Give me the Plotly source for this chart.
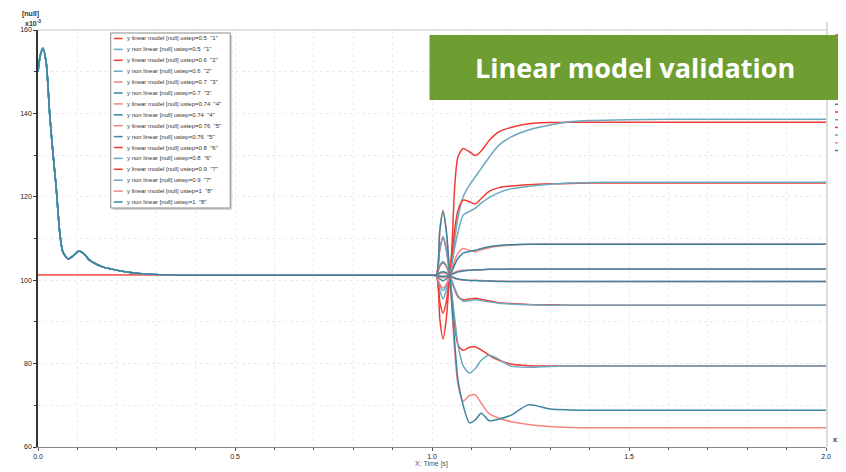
import plotly.graph_objects as go

# ---------------- data ----------------
USTEPS = ["0.5", "0.6", "0.7", "0.74", "0.76", "0.8", "0.9", "1"]
RUN_IDS = ["1", "2", "3", "4", "5", "6", "7", "8"]

# common start segment (non-linear model initial transient), 0..1
T_START = [0.000, 0.006, 0.0126, 0.021, 0.0295, 0.038, 0.046, 0.055, 0.063, 0.077,
           0.090, 0.104, 0.118, 0.131, 0.164, 0.190, 0.230, 0.280, 0.350, 0.600, 1.000]
NL_START = [150.0, 154.0, 155.6, 152.0, 140.0, 130.4, 122.4, 111.6, 106.8, 105.1,
            105.9, 107.0, 106.2, 104.8, 103.2, 102.6, 101.9, 101.4, 101.2, 101.2, 101.2]
LIN_START_T = [0.0]
LIN_START_Y = [101.2]

# step segment, 1..2
T_STEP = [1.000, 1.011, 1.020, 1.028, 1.036, 1.045, 1.050, 1.058, 1.066, 1.079, 1.095, 1.110,
          1.125, 1.145, 1.170, 1.200, 1.245, 1.300, 1.350, 1.400, 1.500, 1.700, 2.000]

lin_05 = [101.2, 101.2, 90.5, 85.9, 90.5, 101.2, 107.0, 123.0, 129.6, 131.6, 130.8, 129.9,
          131.0, 133.5, 135.6, 136.6, 137.5, 137.8, 137.9, 137.9, 137.9, 137.9, 137.9]
nl_05 = [101.2, 101.2, 97.5, 95.5, 97.5, 101.2, 104.0, 110.0, 115.0, 120.0, 122.8, 124.8,
         126.8, 129.5, 132.4, 134.3, 136.0, 137.2, 138.0, 138.3, 138.5, 138.6, 138.6]
lin_06 = [101.2, 101.2, 94.7, 92.1, 94.7, 101.2, 105.5, 112.5, 116.8, 119.2, 118.8, 118.3,
          119.6, 121.3, 122.2, 122.6, 122.9, 123.1, 123.2, 123.3, 123.3, 123.3, 123.3]
nl_06 = [101.2, 101.2, 98.6, 97.5, 98.6, 101.2, 103.5, 108.0, 111.5, 115.6, 116.5, 117.3,
         118.5, 119.8, 121.0, 121.9, 122.5, 123.0, 123.3, 123.4, 123.5, 123.5, 123.5]
lin_07 = [101.2, 101.2, 99.0, 98.1, 99.0, 101.2, 102.5, 104.8, 106.5, 107.6, 107.2, 106.8,
          107.3, 107.8, 108.2, 108.4, 108.6, 108.7, 108.7, 108.7, 108.7, 108.7, 108.7]
nl_07 = [101.2, 101.2, 100.3, 99.8, 100.3, 101.2, 102.0, 103.8, 105.2, 106.5, 106.9, 107.2,
         107.6, 108.0, 108.3, 108.5, 108.6, 108.6, 108.6, 108.6, 108.6, 108.6, 108.6]
lin_074 = [101.2, 101.2, 100.8, 100.6, 100.8, 101.2, 101.5, 101.9, 102.2, 102.4, 102.4, 102.4,
           102.5, 102.6, 102.6, 102.7, 102.7, 102.7, 102.7, 102.7, 102.7, 102.7, 102.7]
nl_074 = [101.2, 101.2, 101.0, 100.9, 101.0, 101.2, 101.4, 101.7, 102.0, 102.2, 102.4, 102.5,
          102.5, 102.6, 102.6, 102.7, 102.7, 102.7, 102.7, 102.7, 102.7, 102.7, 102.7]
lin_076 = [101.2, 101.2, 101.6, 101.8, 101.6, 101.2, 100.8, 100.4, 100.2, 100.0, 100.0, 100.0,
           99.9, 99.8, 99.8, 99.7, 99.7, 99.7, 99.7, 99.7, 99.7, 99.7, 99.7]
nl_076 = [101.2, 101.2, 101.8, 102.0, 101.8, 101.2, 100.9, 100.5, 100.3, 100.1, 99.9, 99.9,
          99.8, 99.8, 99.7, 99.7, 99.7, 99.7, 99.7, 99.7, 99.7, 99.7, 99.7]
lin_08 = [101.2, 101.2, 103.4, 104.2, 103.4, 101.2, 99.8, 97.6, 96.0, 95.3, 95.5, 95.7,
          95.4, 95.0, 94.6, 94.4, 94.2, 94.1, 94.0, 94.0, 94.0, 94.0, 94.0]
nl_08 = [101.2, 101.2, 103.6, 104.5, 103.6, 101.2, 100.0, 98.0, 96.3, 95.0, 95.1, 95.3,
         95.1, 94.8, 94.5, 94.3, 94.1, 94.0, 94.0, 94.0, 94.0, 94.0, 94.0]
lin_09 = [101.2, 101.2, 107.5, 110.2, 107.5, 101.2, 96.5, 89.0, 84.5, 83.2, 83.9, 84.0,
          83.3, 82.0, 80.8, 79.9, 79.5, 79.4, 79.4, 79.4, 79.4, 79.4, 79.4]
nl_09 = [101.2, 101.2, 107.7, 110.5, 107.7, 101.2, 97.0, 90.5, 84.5, 79.5, 77.7, 78.8,
         80.8, 82.0, 81.0, 79.4, 79.1, 79.3, 79.4, 79.4, 79.4, 79.4, 79.4]
lin_10 = [101.2, 101.2, 112.3, 116.8, 112.3, 101.2, 94.0, 82.5, 75.0, 71.0, 72.3, 72.5,
          70.5, 68.0, 66.9, 66.1, 65.4, 64.9, 64.7, 64.6, 64.6, 64.6, 64.6]
nl_10 = [101.2, 101.2, 112.0, 116.4, 112.0, 101.2, 95.0, 84.5, 76.0, 70.0, 65.8, 66.5,
         68.1, 66.3, 66.7, 67.6, 70.1, 69.1, 68.9, 68.8, 68.8, 68.8, 68.8]

LINEAR = [lin_05, lin_06, lin_07, lin_074, lin_076, lin_08, lin_09, lin_10]
NONLIN = [nl_05, nl_06, nl_07, nl_074, nl_076, nl_08, nl_09, nl_10]

Y_TICKS = [60, 80, 100, 120, 140, 160]
X_TICKS = [0.0, 0.5, 1.0, 1.5, 2.0]

# ---------------- styles ----------------
RED = "#ee3b35"
SALMON = "#f4867f"
TEAL = "#3d84a0"
LTEAL = "#6aa9bf"
LIN_COLORS = [RED, RED, SALMON, SALMON, SALMON, RED, RED, SALMON]
NL_COLORS = [LTEAL, LTEAL, TEAL, TEAL, TEAL, LTEAL, LTEAL, TEAL]

# page body has an 8px margin: figure drawn from (8, 8)
OFF = 8
W, H = 846 - OFF, 472 - OFF
PLOT_X0, PLOT_X1, PLOT_Y0, PLOT_Y1 = 35, 826, 30, 447   # target page pixels
L, T = PLOT_X0 - OFF, PLOT_Y0 - OFF
R, B = W - (PLOT_X1 - OFF), H - (PLOT_Y1 - OFF)
PW, PH = W - L - R, H - T - B


def px(xp):
    return (xp - PLOT_X0) / PW


def py(yp):
    return (PLOT_Y1 - yp) / PH


fig = go.Figure()
names = []
colors = []
for i, u in enumerate(USTEPS):
    nm_l = f'y linear model [null] ustep={u}  "{RUN_IDS[i]}"'
    nm_n = f'y non linear [null] ustep={u}  "{RUN_IDS[i]}"'
    fig.add_trace(go.Scatter(
        x=LIN_START_T + T_STEP, y=LIN_START_Y + LINEAR[i], mode="lines", name=nm_l,
        line=dict(color=LIN_COLORS[i], width=1.5, shape="spline", smoothing=0.7),
        showlegend=False))
    fig.add_trace(go.Scatter(
        x=T_START[:-1] + T_STEP, y=NL_START[:-1] + NONLIN[i], mode="lines", name=nm_n,
        line=dict(color=NL_COLORS[i], width=1.5, shape="spline", smoothing=0.7),
        showlegend=False))
    names += [nm_l, nm_n]
    colors += [LIN_COLORS[i], NL_COLORS[i]]

shapes = []
annos = []

# custom compact legend
lx0, lx1, ly0, ly1 = 108, 228, 33, 208
shapes.append(dict(type="rect", xref="paper", yref="paper", x0=px(lx0 + 2), x1=px(lx1 + 2),
                   y0=py(ly1 + 2), y1=py(ly0 + 2), line=dict(width=0), fillcolor="#d8d8d8"))
shapes.append(dict(type="rect", xref="paper", yref="paper", x0=px(lx0), x1=px(lx1),
                   y0=py(ly1), y1=py(ly0), line=dict(color="#8a8a8a", width=1), fillcolor="white"))
for k, (nm, c) in enumerate(zip(names, colors)):
    yy = 38.5 + k * 10.9
    shapes.append(dict(type="line", xref="paper", yref="paper", x0=px(111), x1=px(120),
                       y0=py(yy), y1=py(yy), line=dict(color=c, width=1.5)))
    annos.append(dict(xref="paper", yref="paper", x=px(122), y=py(yy), text=nm, showarrow=False,
                      xanchor="left", yanchor="middle",
                      font=dict(family="Liberation Sans", size=6, color="#333")))

# clipped second legend at right edge
for k in range(16):
    yy = 35 + k * 7.7
    shapes.append(dict(type="line", xref="paper", yref="paper", x0=px(835), x1=px(848),
                       y0=py(yy), y1=py(yy), line=dict(color=colors[k], width=1.5)))

# plot frame pieces
shapes.append(dict(type="line", xref="paper", yref="paper", x0=px(827), x1=px(827),
                   y0=py(447), y1=py(22), line=dict(color="#dcdcdc", width=2)))
shapes.append(dict(type="line", xref="paper", yref="paper", x0=0, x1=px(827),
                   y0=1, y1=1, line=dict(color="#c8c8c8", width=1)))

# title box
shapes.append(dict(type="rect", xref="paper", yref="paper", x0=px(428), x1=px(840),
                   y0=py(100), y1=py(35), line=dict(width=0), fillcolor="#6e9e32"))
annos.append(dict(xref="paper", yref="paper", x=px(634), y=py(68), text="<b>Linear model validation</b>",
                  showarrow=False, xanchor="center", yanchor="middle",
                  font=dict(family="Open Sans", size=27, color="white")))

# axis decorations
small = dict(family="Liberation Sans", size=7, color="#333")
annos.append(dict(xref="paper", yref="paper", x=px(17), y=py(14), text="<b>[null]</b>", showarrow=False,
                  xanchor="left", yanchor="middle", font=small))
annos.append(dict(xref="paper", yref="paper", x=px(20), y=py(23), text="<b>x10<sup>-3</sup></b>",
                  showarrow=False, xanchor="left", yanchor="middle", font=small))
annos.append(dict(xref="paper", yref="paper", x=px(831), y=py(439), text="<b>x10</b>", showarrow=False,
                  xanchor="left", yanchor="middle", font=small))
annos.append(dict(xref="paper", yref="paper", x=px(430), y=py(464), text="X: Time [s]", showarrow=False,
                  xanchor="center", yanchor="middle",
                  font=dict(family="Liberation Sans", size=7, color="#555")))

fig.update_layout(
    width=W, height=H, autosize=False,
    margin=dict(l=L, r=R, t=T, b=B),
    paper_bgcolor="white", plot_bgcolor="white",
    shapes=shapes, annotations=annos, showlegend=False,
    xaxis=dict(range=[0, 2], tickvals=X_TICKS, tickformat=".1f", ticks="outside", ticklen=3,
               tickcolor="#555", showline=True, linecolor="#888", linewidth=1,
               tickfont=dict(family="Liberation Sans", size=7, color="#222"),
               showgrid=True, gridcolor="#ececec", griddash="dot", gridwidth=1,
               minor=dict(dtick=0.1, ticks="outside", ticklen=2, tickcolor="#555",
                          showgrid=True, gridcolor="#ececec", griddash="dot"),
               zeroline=False),
    yaxis=dict(range=[60, 160], tickvals=Y_TICKS, ticks="outside", ticklen=3,
               tickcolor="#333", showline=True, linecolor="#333", linewidth=1.5,
               tickfont=dict(family="Liberation Sans", size=7, color="#222"),
               showgrid=True, gridcolor="#ececec", griddash="dot", gridwidth=1,
               minor=dict(dtick=10, ticks="outside", ticklen=2, tickcolor="#333",
                          showgrid=True, gridcolor="#ececec", griddash="dot"),
               zeroline=False),
)

fig.write_html("out.html")
